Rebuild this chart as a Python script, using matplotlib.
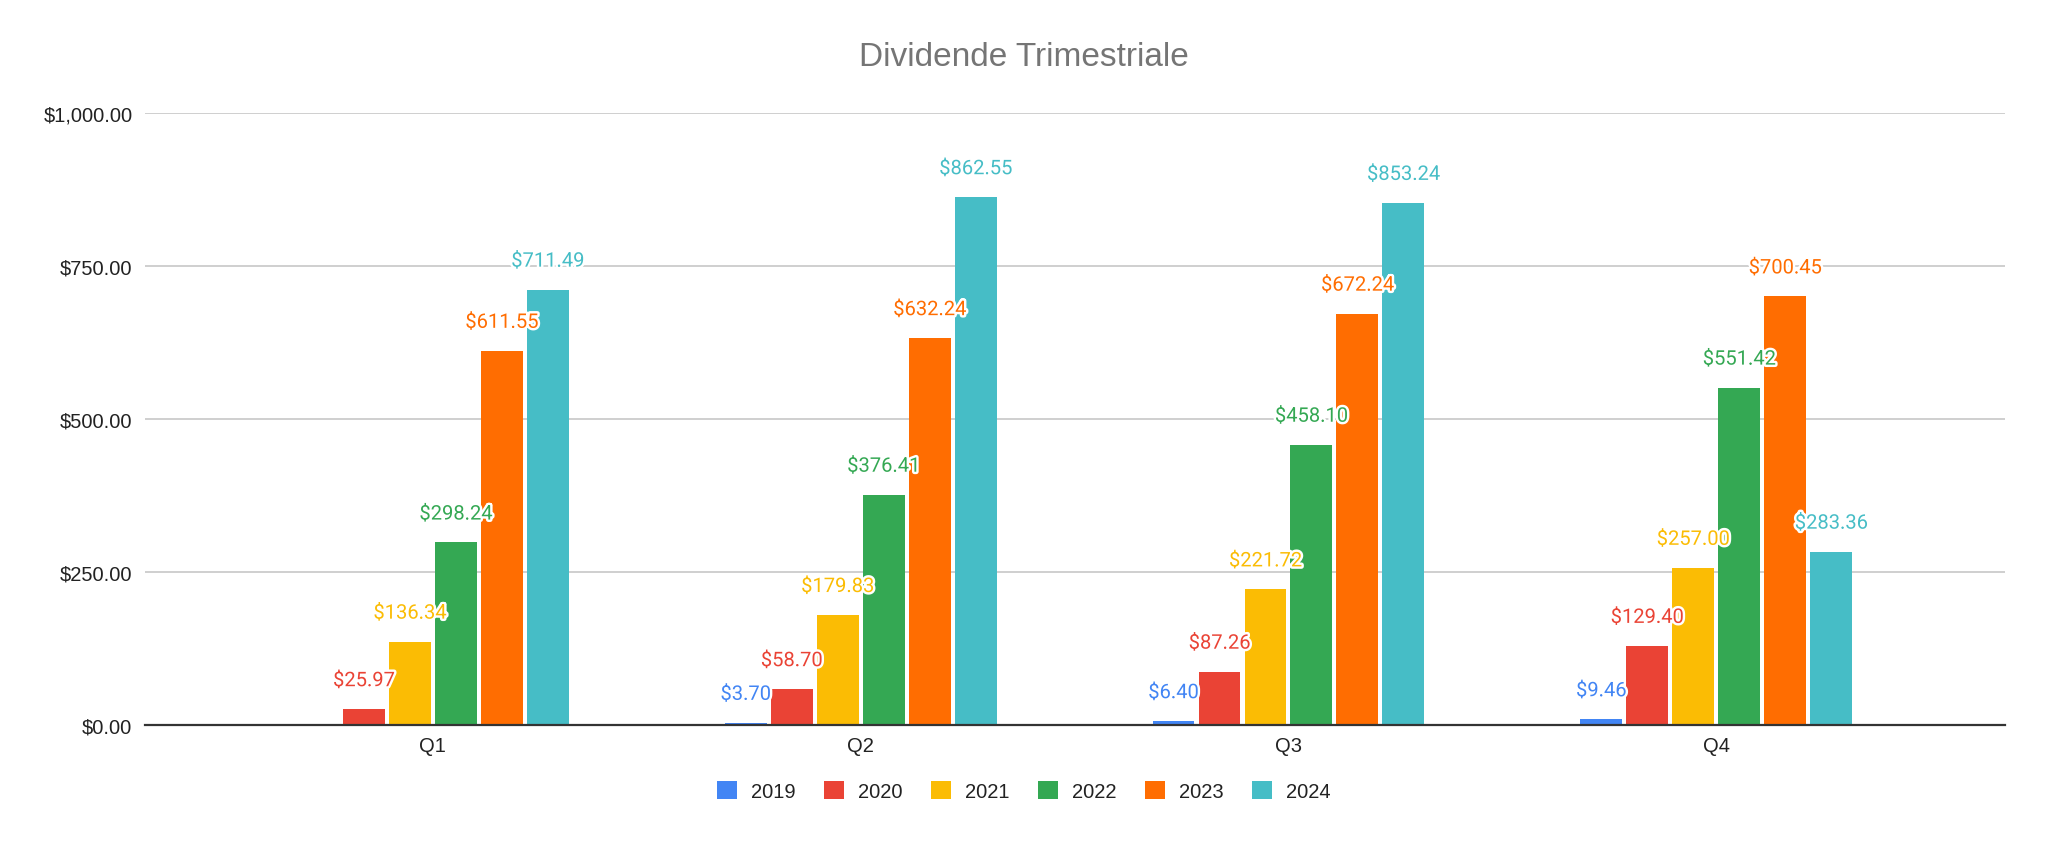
import matplotlib
matplotlib.use("Agg")
import matplotlib.pyplot as plt
import matplotlib.patheffects as pe
from matplotlib.ticker import FuncFormatter

# ---- data ----
quarters = ["Q1", "Q2", "Q3", "Q4"]
years = ["2019", "2020", "2021", "2022", "2023", "2024"]
v2019 = [0.00, 3.70, 6.40, 9.46]
v2020 = [25.97, 58.70, 87.26, 129.40]
v2021 = [136.34, 179.83, 221.72, 257.00]
v2022 = [298.24, 376.41, 458.10, 551.42]
v2023 = [611.55, 632.24, 672.24, 700.45]
v2024 = [711.49, 862.55, 853.24, 283.36]
series = [v2019, v2020, v2021, v2022, v2023, v2024]
colors = ["#4285F4", "#EA4335", "#FBBC04", "#34A853", "#FF6D01", "#46BDC6"]
yticks = [0, 250, 500, 750, 1000]

fig = plt.figure(figsize=(20.48, 8.45), dpi=100)
ax = fig.add_axes([145/2048, (845-726)/845, (2005-145)/2048, (726-114)/845])

pitch = 0.1075
width = 0.098
n = len(series)
for j, (vals, col, yr) in enumerate(zip(series, colors, years)):
    xs = [i + (j - (n-1)/2) * pitch for i in range(len(quarters))]
    ax.bar(xs, vals, width=width, color=col, label=yr, zorder=3, linewidth=0)
    for x, v in zip(xs, vals):
        if v <= 0:
            continue
        t = ax.annotate(f"${v:,.2f}", xy=(x, v), xytext=(0, 16.5), textcoords="offset points",
                        ha="center", va="baseline", color=col, fontsize=14.5,
                        family=["Roboto", "DejaVu Sans"], zorder=5)
        t.set_path_effects([pe.withStroke(linewidth=3.5, foreground="white")])

ax.set_xlim(-0.673, 3.675)
ax.set_ylim(0, 1000)
ax.set_xticks(range(len(quarters)))
ax.set_xticklabels(quarters)
ax.set_yticks(yticks)
ax.yaxis.set_major_formatter(FuncFormatter(lambda v, p: f"${v:,.2f}"))
ax.grid(axis="y", color="#cccccc", linewidth=1.3, zorder=0)
ax.set_axisbelow(True)
for s in ["top", "right", "left"]:
    ax.spines[s].set_visible(False)
ax.spines["bottom"].set_color("#333333")
ax.spines["bottom"].set_linewidth(1.6)
ax.spines["bottom"].set_zorder(4)
ax.tick_params(axis="both", length=0, labelsize=14.5, colors="#222222")
ax.tick_params(axis="y", pad=9)
ax.tick_params(axis="x", pad=8)
for lab in ax.get_xticklabels() + ax.get_yticklabels():
    lab.set_family(["Liberation Sans", "DejaVu Sans"])

fig.text(0.5, (845-58)/845, "Dividende Trimestriale", ha="center", va="center",
         fontsize=24, color="#757575", family=["Liberation Sans", "DejaVu Sans"])

leg = fig.legend(loc="center", bbox_to_anchor=(0.5, (845-792)/845), ncol=6, frameon=False,
                 handlelength=1.0, handleheight=1.0, handletextpad=0.7, columnspacing=1.4,
                 prop={"family": ["Liberation Sans", "DejaVu Sans"], "size": 14.5})
for t in leg.get_texts():
    t.set_color("#222222")

fig.savefig("out.png", dpi=100, facecolor="white")
